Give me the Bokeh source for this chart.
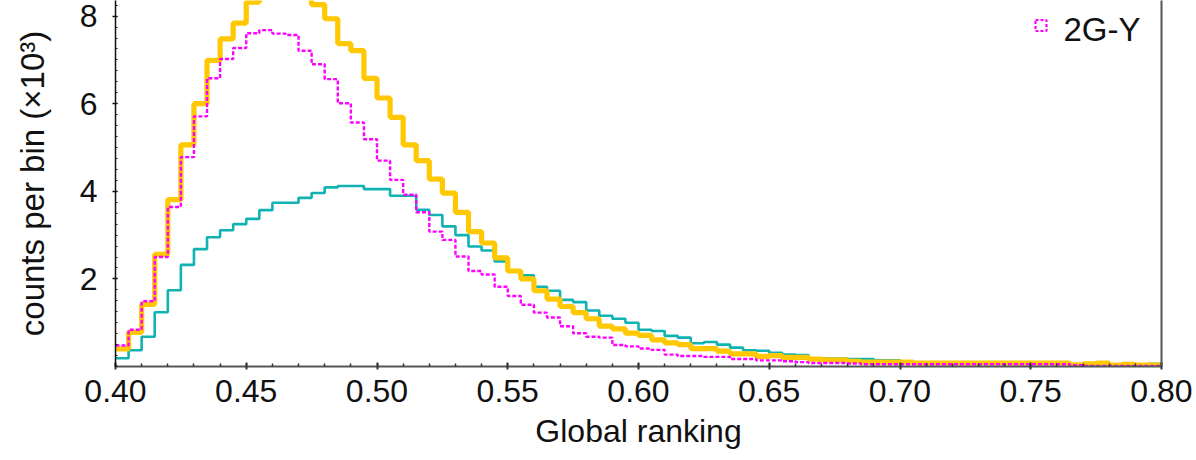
import numpy as np
from bokeh.plotting import figure
from bokeh.models import Range1d, FixedTicker, LinearAxis, Label, ColumnDataSource
from bokeh.embed import file_html
from bokeh.resources import INLINE

# ---- data (counts per bin, x10^3), bins of width 0.005 from 0.40 to 0.80 ----
bin_start = 0.40
bin_width = 0.005

gold_counts = [
    0.40, 0.78, 1.42, 2.56, 3.81, 5.06, 6.00, 6.99, 7.48, 7.84,
    8.32, 8.60, 8.75, 8.72, 8.55, 8.26, 7.94, 7.37, 7.21, 6.58,
    6.13, 5.69, 5.06, 4.70, 4.28, 3.96, 3.52, 3.08, 2.82, 2.48,
    2.18, 2.00, 1.73, 1.54, 1.37, 1.23, 1.09, 0.92, 0.86, 0.76,
    0.71, 0.61, 0.54, 0.50, 0.41, 0.41, 0.35, 0.29, 0.29, 0.23,
    0.25, 0.21, 0.21, 0.17, 0.15, 0.15, 0.12, 0.10, 0.10, 0.10,
    0.10, 0.08, 0.08, 0.08, 0.08, 0.08, 0.08, 0.08, 0.08, 0.08,
    0.08, 0.08, 0.08, 0.04, 0.06, 0.08, 0.03, 0.05, 0.03, 0.03,
]

magenta_counts = [
    0.48, 0.84, 1.49, 2.50, 3.64, 4.78, 5.71, 6.58, 7.02, 7.27,
    7.61, 7.68, 7.60, 7.57, 7.21, 6.90, 6.56, 6.01, 5.57, 5.19,
    4.70, 4.26, 3.92, 3.52, 3.08, 2.89, 2.51, 2.18, 2.10, 1.82,
    1.61, 1.41, 1.23, 1.12, 0.92, 0.76, 0.68, 0.66, 0.49, 0.46,
    0.41, 0.38, 0.27, 0.24, 0.24, 0.22, 0.22, 0.17, 0.17, 0.14,
    0.14, 0.12, 0.10, 0.08, 0.08, 0.08, 0.07, 0.05, 0.05, 0.05,
    0.05, 0.05, 0.05, 0.05, 0.05, 0.05, 0.05, 0.05, 0.05, 0.05,
    0.05, 0.05, 0.05, 0.03, 0.01, 0.01, 0.01, 0.01, 0.01, 0.01,
]

teal_counts = [
    0.19, 0.37, 0.68, 1.24, 1.74, 2.32, 2.68, 2.95, 3.11, 3.25,
    3.37, 3.57, 3.74, 3.74, 3.85, 3.96, 4.09, 4.12, 4.12, 4.05,
    4.05, 3.90, 3.90, 3.58, 3.46, 3.20, 3.00, 2.74, 2.65, 2.40,
    2.19, 2.08, 1.82, 1.73, 1.52, 1.47, 1.28, 1.16, 1.09, 1.00,
    0.84, 0.81, 0.70, 0.66, 0.53, 0.56, 0.50, 0.43, 0.37, 0.36,
    0.31, 0.27, 0.26, 0.19, 0.19, 0.19, 0.17, 0.17, 0.14, 0.14,
    0.10, 0.09, 0.08, 0.08, 0.08, 0.08, 0.08, 0.08, 0.08, 0.08,
    0.08, 0.08, 0.08, 0.05, 0.05, 0.05, 0.05, 0.05, 0.04, 0.06,
]

x_ticks = [0.40, 0.45, 0.50, 0.55, 0.60, 0.65, 0.70, 0.75, 0.80]
x_tick_labels = ["0.40", "0.45", "0.50", "0.55", "0.60", "0.65", "0.70", "0.75", "0.80"]
y_ticks = [2, 4, 6, 8]
y_tick_labels = ["2", "4", "6", "8"]

legend_label_text = "2G-Y"
x_label = "Global ranking"
y_label = "counts per bin (\u00d710\u00b3)"

# ---- build step sources ----
n_bins = len(gold_counts)
edges = np.round(bin_start + bin_width * np.arange(n_bins + 1), 4)

def step_source(counts):
    return ColumnDataSource(dict(x=edges, y=list(counts) + [counts[-1]]))

FONT = "Liberation Sans"
PX_PER_Y = 43.8      # frame pixels per y unit
PX_PER_X = 2615.0    # frame pixels per x unit
FRAME_H = 366

p = figure(
    width=1196, height=460,
    output_backend="svg", toolbar_location=None,
    x_range=Range1d(0.40, 0.80), y_range=Range1d(0, FRAME_H / PX_PER_Y),
    min_border_left=115, min_border_right=35, min_border_top=0, min_border_bottom=94,
)
p.outline_line_color = None
p.xgrid.visible = False
p.ygrid.visible = False
p.background_fill_color = "white"
p.border_fill_color = "white"

p.step("x", "y", source=step_source(teal_counts), mode="after",
       line_color="#10B2B2", line_width=2.6)
p.step("x", "y", source=step_source(gold_counts), mode="after",
       line_color="#FFC800", line_width=5.2)
p.step("x", "y", source=step_source(magenta_counts), mode="after",
       line_color="#FF00FF", line_width=2.4, line_dash="4 2")

# ---- x axis ----
xa = p.xaxis[0]
xa.ticker = FixedTicker(ticks=x_ticks, minor_ticks=list(np.round(np.arange(0.40, 0.8001, 0.01), 3)))
xa.major_label_overrides = {t: l for t, l in zip(x_ticks, x_tick_labels)}
xa.axis_line_color = "#555555"
xa.axis_line_width = 2
xa.major_tick_line_color = "#333333"
xa.major_tick_line_width = 2
xa.minor_tick_line_color = "#333333"
xa.minor_tick_line_width = 1.5
xa.major_tick_in = 4
xa.major_tick_out = 3
xa.minor_tick_in = 3
xa.minor_tick_out = 0
xa.major_label_text_font = FONT
xa.major_label_text_font_size = "32px"
xa.major_label_text_color = "#111111"
xa.major_label_standoff = 10
xa.axis_label = x_label
xa.axis_label_text_font = FONT
xa.axis_label_text_font_size = "32px"
xa.axis_label_text_font_style = "normal"
xa.axis_label_text_color = "#111111"
xa.axis_label_standoff = 8

# ---- y axis ----
ya = p.yaxis[0]
ya.ticker = FixedTicker(ticks=y_ticks, minor_ticks=list(np.arange(0, 8.3, 0.25)))
ya.major_label_overrides = {t: l for t, l in zip(y_ticks, y_tick_labels)}
ya.axis_line_color = "#111111"
ya.axis_line_width = 1.5
ya.major_tick_line_color = "#111111"
ya.major_tick_line_width = 1.5
ya.minor_tick_line_color = "#111111"
ya.minor_tick_line_width = 1.2
ya.major_tick_in = 2
ya.major_tick_out = 3
ya.minor_tick_in = 2
ya.minor_tick_out = 0
ya.major_label_text_font = FONT
ya.major_label_text_font_size = "32px"
ya.major_label_text_color = "#111111"
ya.major_label_standoff = 15
ya.axis_label = y_label
ya.axis_label_text_font = FONT
ya.axis_label_text_font_size = "33px"
ya.axis_label_text_font_style = "normal"
ya.axis_label_text_color = "#111111"
ya.axis_label_standoff = 26

# right frame line
ra = LinearAxis(ticker=FixedTicker(ticks=[]))
ra.axis_line_color = "#555555"
ra.axis_line_width = 2
ra.major_tick_in = 0
ra.major_tick_out = 0
ra.minor_tick_in = 0
ra.minor_tick_out = 0
ra.major_label_text_font_size = "0px"
p.add_layout(ra, "right")

# legend entry (visible part)
p.scatter(x=[0.40 + 925.5 / PX_PER_X], y=[(FRAME_H - 25) / PX_PER_Y], marker="square", size=11,
          fill_color=None, line_color="#FF00FF", line_width=2.2, line_dash="3 2")
p.add_layout(Label(x=0.40 + 948 / PX_PER_X, y=(FRAME_H - 29) / PX_PER_Y, text=legend_label_text,
                   text_align="left", text_baseline="middle",
                   text_font=FONT, text_font_size="33px", text_color="#111111"))

open("out.html", "w").write(file_html(p, INLINE))
